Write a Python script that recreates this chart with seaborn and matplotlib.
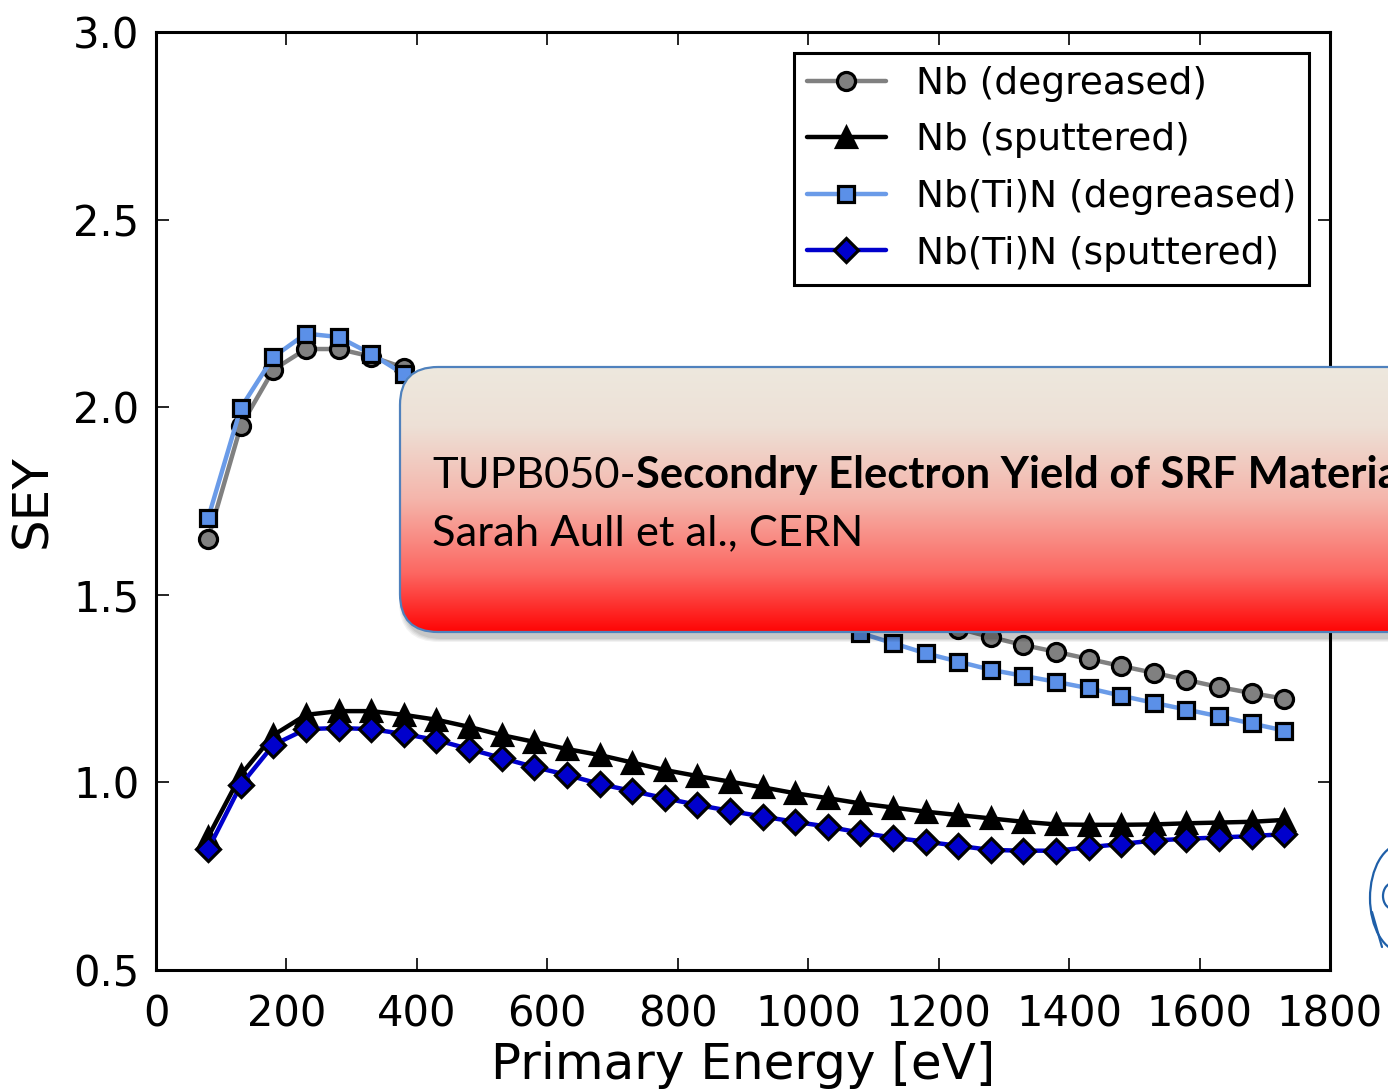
import numpy as np
import matplotlib
matplotlib.use("Agg")
import matplotlib.pyplot as plt
import seaborn as sns
from matplotlib.patches import FancyBboxPatch, Arc

# Primary electron energy [eV]
energy = [80, 130, 180, 230, 280, 330, 380, 430, 480, 530, 580, 630, 680, 730,
          780, 830, 880, 930, 980, 1030, 1080, 1130, 1180, 1230, 1280, 1330,
          1380, 1430, 1480, 1530, 1580, 1630, 1680, 1730]

# Secondary electron yield per sample
nb_degreased = [1.65, 1.95, 2.10, 2.155, 2.155, 2.135, 2.105, 2.06, 2.01, 1.96,
                1.91, 1.86, 1.81, 1.765, 1.72, 1.675, 1.635, 1.595, 1.555, 1.52,
                1.49, 1.46, 1.435, 1.41, 1.387, 1.366, 1.348, 1.329, 1.310,
                1.292, 1.273, 1.254, 1.238, 1.223]
nb_sputtered = [0.855, 1.02, 1.126, 1.18, 1.19, 1.19, 1.18, 1.167, 1.148, 1.126,
                1.108, 1.089, 1.073, 1.053, 1.033, 1.017, 1.002, 0.987, 0.971,
                0.958, 0.944, 0.933, 0.922, 0.913, 0.904, 0.895, 0.888, 0.887,
                0.887, 0.888, 0.891, 0.893, 0.895, 0.900]
nbtin_degreased = [1.705, 1.998, 2.134, 2.196, 2.187, 2.142, 2.088, 2.03, 1.97,
                   1.91, 1.85, 1.79, 1.735, 1.685, 1.635, 1.59, 1.545, 1.505,
                   1.468, 1.432, 1.398, 1.371, 1.344, 1.322, 1.300, 1.284, 1.268,
                   1.251, 1.231, 1.212, 1.194, 1.176, 1.157, 1.138]
nbtin_sputtered = [0.822, 0.993, 1.10, 1.142, 1.145, 1.142, 1.129, 1.113, 1.089,
                   1.065, 1.041, 1.020, 0.996, 0.977, 0.958, 0.940, 0.924, 0.909,
                   0.895, 0.882, 0.866, 0.853, 0.842, 0.831, 0.820, 0.818, 0.818,
                   0.827, 0.836, 0.845, 0.850, 0.853, 0.857, 0.862]

series_labels = ["Nb (degreased)", "Nb (sputtered)",
                 "Nb(Ti)N (degreased)", "Nb(Ti)N (sputtered)"]

x_ticks = [0, 200, 400, 600, 800, 1000, 1200, 1400, 1600, 1800]
y_ticks = [0.5, 1.0, 1.5, 2.0, 2.5, 3.0]

sns.set_style("ticks")
plt.rcParams["font.family"] = ["DejaVu Sans"]
for key in ("text.color", "axes.labelcolor", "xtick.color", "ytick.color",
            "axes.edgecolor"):
    plt.rcParams[key] = "black"

fig = plt.figure(figsize=(13.88, 10.91), dpi=100)
ax = fig.add_axes([0.1124, 0.1109, 0.8458, 0.8598])

styles = [
    dict(color="#808080", marker="o", markerfacecolor="#808080", markersize=13),
    dict(color="#000000", marker="^", markerfacecolor="#000000", markersize=14),
    dict(color="#6a9be8", marker="s", markerfacecolor="#5b90e8", markersize=12),
    dict(color="#0000cc", marker="D", markerfacecolor="#0000cc", markersize=12.5),
]
for label, vals, st in zip(series_labels,
                           [nb_degreased, nb_sputtered, nbtin_degreased, nbtin_sputtered],
                           styles):
    sns.lineplot(x=energy, y=vals, ax=ax, label=label, linewidth=3.2,
                 markeredgecolor="black", markeredgewidth=2.3, **st)

ax.set_xlim(0, 1800)
ax.set_ylim(0.5, 3.0)
ax.set_xticks(x_ticks)
ax.set_yticks(y_ticks)
ax.set_yticklabels([f"{t:.1f}" for t in y_ticks])
ax.tick_params(direction="in", length=9, width=1.2, labelsize=30,
               top=True, right=True, colors="black")
ax.tick_params(axis="y", pad=12)
ax.tick_params(axis="x", pad=17)
for sp in ax.spines.values():
    sp.set_linewidth(2.2)
    sp.set_color("black")
ax.set_xlabel("Primary Energy [eV]", fontsize=36, labelpad=4)
ax.set_ylabel("SEY", fontsize=36, labelpad=12)

leg = ax.legend(loc="upper right", fontsize=27, frameon=True, fancybox=False,
                borderaxespad=0.55, handlelength=2.1, handletextpad=0.8,
                labelspacing=0.55, borderpad=0.35)
leg.get_frame().set_edgecolor("black")
leg.get_frame().set_linewidth(2.2)
leg.get_frame().set_alpha(1)
for txt in leg.get_texts():
    txt.set_color("black")

# Overlay in pixel coordinates for the annotation banner and logo
ov = fig.add_axes([0, 0, 1, 1], zorder=10)
ov.set_xlim(0, 1388)
ov.set_ylim(1091, 0)
ov.axis("off")

bx, by, bw, bh = 400, 367, 1120, 265
# soft drop shadow
for i, a in enumerate([0.05, 0.05, 0.06, 0.07]):
    grow = 8 - 2 * i
    sh = FancyBboxPatch((bx + 3 - grow / 2, by + 6 - grow / 2), bw + grow, bh + grow,
                        boxstyle="round,pad=0,rounding_size=40",
                        facecolor="black", edgecolor="none", alpha=a)
    ov.add_patch(sh)

box = FancyBboxPatch((bx, by), bw, bh, boxstyle="round,pad=0,rounding_size=38",
                     facecolor="none", edgecolor="#4f81bd", linewidth=1.6, zorder=3)
ov.add_patch(box)

stops = np.array([0.0, 0.22, 0.5, 0.78, 1.0])
cols = np.array([[0.93, 0.91, 0.87],
                 [0.93, 0.88, 0.84],
                 [0.96, 0.71, 0.67],
                 [0.99, 0.40, 0.38],
                 [1.00, 0.02, 0.02]])
t = np.linspace(0, 1, 300)
grad = np.stack([np.interp(t, stops, cols[:, k]) for k in range(3)], axis=-1)[:, None, :]
im = ov.imshow(grad, extent=(bx, bx + bw, by + bh, by), aspect="auto",
               origin="upper", zorder=2)
im.set_clip_path(box)
ov.set_xlim(0, 1388)
ov.set_ylim(1091, 0)

banner_fs = 31.3
t1 = ov.text(432, 488, "TUPB050-", fontfamily="Lato", fontsize=banner_fs,
             va="baseline", ha="left", color="black", zorder=4)
fig.canvas.draw()
r = fig.canvas.get_renderer()
bb = t1.get_window_extent(renderer=r)
x_end = bb.x1  # figure pixels; overlay spans the full figure so x matches
ov.text(x_end, 488, "Secondry Electron Yield of SRF Materials", fontfamily="Lato",
        fontweight="bold", fontsize=banner_fs, va="baseline", ha="left",
        color="black", zorder=4)
ov.text(432, 545, "Sarah Aull et al., CERN", fontfamily="Lato", fontsize=banner_fs,
        va="baseline", ha="left", color="black", zorder=4)

# partial institute logo at the lower right edge
logo_c = "#1f5fa8"
ov.add_patch(Arc((1402, 898), 64, 108, theta1=90, theta2=270, color=logo_c, lw=1.6))
ov.add_patch(Arc((1393, 896), 20, 26, theta1=90, theta2=270, color=logo_c, lw=1.6))
ov.plot([1372, 1382], [912, 947], color=logo_c, lw=1.6)

fig.savefig("out.png", dpi=100)
